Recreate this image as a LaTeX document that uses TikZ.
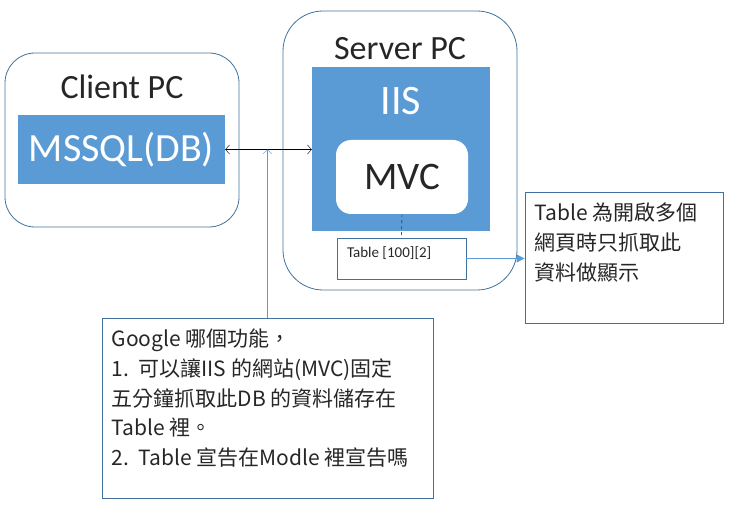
\documentclass[tikz,border=0pt]{standalone}
\usepackage{fontspec}
\setmainfont{Carlito}
\newfontfamily\cjk{Noto Sans CJK TC}
\usetikzlibrary{arrows.meta}
\definecolor{boxline}{HTML}{41719C}
\definecolor{boxfill}{HTML}{5B9BD5}
\definecolor{ink}{HTML}{262626}
\tikzset{
    pcbox/.style = {draw = boxline, thick, rounded corners = 30pt},
    bluebox/.style = {fill = boxfill, text = white},
    notebox/.style = {draw = boxline, thick},
    notetext/.style = {anchor = north west, inner sep = 0pt, align = left, text = ink,
        font = \cjk\fontsize{21}{29.8}\selectfont},
    barb/.style = {{Straight Barb[length = 4pt, width = 9pt]}-{Straight Barb[length = 4pt, width = 9pt]}}
}
\begin{document}
\begin{tikzpicture}[x = 1pt, y = -1pt]
        \useasboundingbox (0, 0) rectangle (735, 510);
        % client side
        \node[pcbox, minimum width = 234pt, minimum height = 174pt] (client) at (122, 140) {};
        \node[anchor = base, text = ink, font = \fontsize{34}{40}\selectfont] (clienttitle)
            at ([yshift = -46pt]client.north) {Client PC};
        \node[bluebox, minimum width = 207pt, minimum height = 69pt,
            font = \fontsize{40}{46}\selectfont] (db) at (121.5, 149.5) {MSSQL(DB)};
        % server side
        \node[pcbox, rounded corners = 40pt, minimum width = 234pt, minimum height = 279pt] (server) at (400, 150.5) {};
        \node[anchor = base, text = ink, font = \fontsize{34}{40}\selectfont] (servertitle)
            at ([yshift = -49pt]server.north) {Server PC};
        \node[bluebox, minimum width = 178pt, minimum height = 164pt] (iis) at (401, 149) {};
        \node[anchor = base, text = white, font = \fontsize{42}{48}\selectfont] (iistitle)
            at ([yshift = -48pt]iis.north) {IIS};
        \node[fill = white, rounded corners = 15pt, minimum width = 132pt, minimum height = 74pt,
            text = ink, font = \fontsize{39}{45}\selectfont] (mvc) at (402, 177) {MVC};
        \node[draw = boxline, minimum width = 129pt, minimum height = 41pt] (tbl) at (401.5, 258.5) {};
        \node[anchor = base west, inner sep = 0pt, text = ink, font = \fontsize{15}{18}\selectfont] (tbltext)
            at ([xshift = 10pt, yshift = -20pt]tbl.north west) {Table [100][2]};
        % notes
        \node[notebox, minimum width = 198pt, minimum height = 131pt] (memo) at (624, 257.5) {};
        \node[notetext] (memotext) at ([xshift = 10pt, yshift = -11pt]memo.north west)
            {Table 為開啟多個\\網頁時只抓取此\\資料做顯示};
        \node[notebox, minimum width = 331pt, minimum height = 180pt] (ask) at (267.5, 408) {};
        \node[notetext] (asktext) at ([xshift = 10pt, yshift = -11pt]ask.north west)
            {Google 哪個功能，\\1.\ \ 可以讓IIS 的網站(MVC)固定\\五分鐘抓取此DB 的資料儲存在\\Table 裡。\\2.\ \ Table 宣告在Modle 裡宣告嗎};
        % connectors
        \draw[barb, black] (db.east) -- (db.east -| iis.west);
        \draw[-{Straight Barb[length = 4pt, width = 9pt]}, boxfill] (ask.north) -- (ask.north |- db.east);
        \draw[dashed, black] (mvc.south) -- (tbl.north);
        \draw[-{Triangle[length = 8pt, width = 8pt]}, boxfill, thick] (tbl.east) -- (tbl.east -| memo.west);
        \end{tikzpicture}
\end{document}
